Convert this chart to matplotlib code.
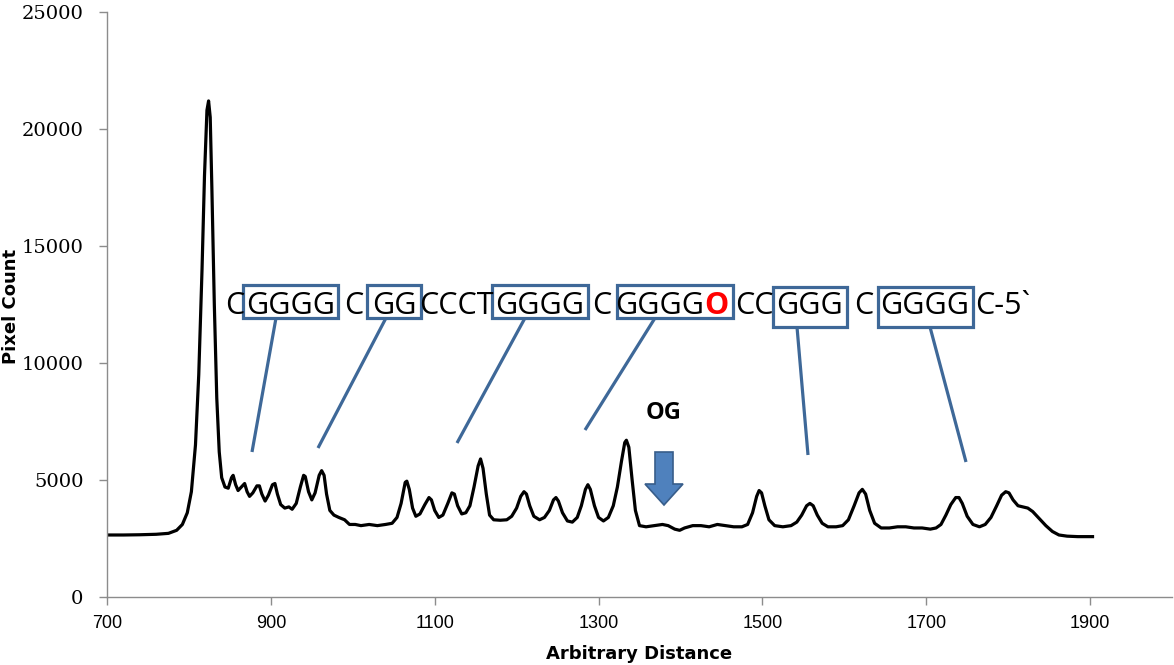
import matplotlib
matplotlib.use("Agg")
import matplotlib.pyplot as plt
from matplotlib.patches import Rectangle, FancyArrow

# densitometry trace
distance = [
    700, 720, 740, 760, 775, 785, 792, 798, 803, 808, 812, 816, 819, 822, 824,
    826, 828, 831, 834, 837, 840, 844, 848, 852, 854, 857, 860, 864, 868, 871,
    874, 878, 883, 886, 889, 893, 897, 902, 905, 908, 912, 917, 922, 926, 931,
    936, 940, 942, 946, 950, 954, 959, 962, 965, 968, 972, 977, 983, 990, 996,
    1003, 1010, 1020, 1030, 1040, 1048, 1054, 1059, 1064, 1066, 1069, 1073,
    1077, 1082, 1088, 1093, 1096, 1100, 1105, 1110, 1116, 1121, 1124, 1128,
    1133, 1138, 1143, 1148, 1153, 1156, 1159, 1163, 1167, 1172, 1180, 1188,
    1194, 1200, 1205, 1209, 1212, 1216, 1221, 1228, 1234, 1240, 1245, 1248,
    1251, 1256, 1262, 1268, 1274, 1279, 1284, 1287, 1290, 1295, 1300, 1306,
    1312, 1318, 1323, 1328, 1332, 1334, 1337, 1341, 1345, 1350, 1358, 1368,
    1378, 1385, 1393, 1399, 1405, 1415, 1425, 1435, 1445, 1455, 1465, 1475,
    1482, 1488, 1493, 1496, 1499, 1503, 1508, 1515, 1525, 1535, 1542, 1548,
    1554, 1558, 1562, 1567, 1573, 1580, 1590, 1598, 1605, 1612, 1618, 1622,
    1626, 1631, 1637, 1645, 1655, 1665, 1675, 1685, 1695, 1705, 1712, 1718,
    1724, 1730, 1736, 1740, 1744, 1750, 1757, 1765, 1772, 1779, 1786, 1792,
    1797, 1801, 1806, 1812, 1818, 1824, 1830, 1838, 1846, 1854, 1862, 1872,
    1885, 1895, 1903,
]
pixel_count = [
    2650, 2650, 2660, 2680, 2720, 2850, 3100, 3600, 4500, 6500, 9500, 14000,
    18000, 20800, 21200, 20500, 17500, 12500, 8500, 6200, 5100, 4700, 4650,
    5100, 5200, 4800, 4550, 4700, 4850, 4500, 4300, 4450, 4750, 4750, 4400,
    4100, 4350, 4800, 4850, 4400, 3950, 3800, 3850, 3750, 4000, 4700, 5200,
    5150, 4500, 4150, 4450, 5200, 5400, 5200, 4400, 3700, 3500, 3400, 3300,
    3100, 3100, 3050, 3100, 3050, 3100, 3150, 3400, 4000, 4900, 4950, 4600,
    3800, 3450, 3550, 3950, 4250, 4150, 3700, 3400, 3500, 4000, 4450, 4400,
    3900, 3550, 3600, 3900, 4700, 5600, 5900, 5500, 4400, 3500, 3300, 3280,
    3300, 3450, 3800, 4300, 4500, 4400, 3900, 3450, 3300, 3400, 3700, 4150,
    4250, 4100, 3600, 3250, 3200, 3400, 3900, 4600, 4800, 4600, 3900, 3400,
    3250, 3400, 3900, 4700, 5800, 6600, 6700, 6400, 5000, 3700, 3050, 3000,
    3050, 3100, 3050, 2900, 2850, 2950, 3050, 3050, 3000, 3100, 3050, 3000,
    3000, 3100, 3600, 4300, 4550, 4450, 3900, 3300, 3050, 3000, 3050, 3200,
    3500, 3900, 4000, 3900, 3500, 3150, 3000, 3000, 3050, 3300, 3900, 4450,
    4600, 4400, 3700, 3150, 2950, 2950, 3000, 3000, 2950, 2950, 2900, 2950,
    3100, 3500, 3950, 4250, 4250, 4000, 3450, 3100, 3000, 3100, 3400, 3900,
    4350, 4500, 4450, 4150, 3900, 3850, 3800, 3650, 3350, 3050, 2800, 2650,
    2600, 2580, 2580, 2580,
]

x_ticks = [700, 900, 1100, 1300, 1500, 1700, 1900]
y_ticks = [0, 5000, 10000, 15000, 20000, 25000]

# sequence annotation: (text, colour)
seq_parts = [
    ("C", "black"), ("GGGG", "black"), ("C", "black"), ("GG", "black"),
    ("CCCT", "black"), ("GGGG", "black"), ("C", "black"), ("GGGG", "black"),
    ("O", "red"), ("CC", "black"), ("GGG", "black"), ("C", "black"),
    ("GGGG", "black"), ("C-5`", "black"),
]

W, H = 1174, 665
X0, X1, Y0, Y1 = 107, 1172, 597, 12   # axes box in reference pixels
XMIN, XMAX, YMIN, YMAX = 700, 2000, 0, 25000


def px(x, y):
    # reference pixel -> data coords, only used for the annotation layout
    dx = XMIN + (x - X0) * (XMAX - XMIN) / (X1 - X0)
    dy = YMIN + (Y0 - y) * (YMAX - YMIN) / (Y0 - Y1)
    return dx, dy


fig = plt.figure(figsize=(W / 100, H / 100), dpi=100)
ax = fig.add_axes([X0 / W, 1 - Y0 / H, (X1 - X0) / W, (Y0 - Y1) / H])

ax.plot(distance, pixel_count, color="black", lw=2.3, solid_joinstyle="round")

ax.set_xlim(XMIN, XMAX)
ax.set_ylim(YMIN, YMAX)
ax.set_xticks(x_ticks)
ax.set_yticks(y_ticks)
for s in ("top", "right"):
    ax.spines[s].set_visible(False)
for s in ("left", "bottom"):
    ax.spines[s].set_color("#8c8c8c")
    ax.spines[s].set_linewidth(1.0)
ax.tick_params(direction="out", length=6, width=1.0, color="#8c8c8c")
ax.tick_params(axis="y", pad=11, labelsize=14,
               labelfontfamily="DejaVu Serif")
ax.tick_params(axis="x", pad=7, labelsize=13,
               labelfontfamily="Liberation Sans")

ax.set_xlabel("Arbitrary Distance", fontsize=13, fontweight="bold")
ax.set_ylabel("Pixel Count", fontsize=13, fontweight="bold")
ax.xaxis.set_label_coords(0.5, -0.082)
ax.yaxis.set_label_coords(-0.0817, 0.496)

# sequence letters
centers = [235, 291, 354, 394, 456, 540, 602, 660, 716, 754, 810, 864, 925, 1003]
for (txt, col), cx in zip(seq_parts, centers):
    x, y = px(cx, 314)
    ax.text(x, y, txt, color=col, fontsize=22, family="Open Sans",
            fontweight="bold" if col == "red" else "normal",
            ha="center", va="baseline")

box_color = "#3e6898"
boxes = [(243, 338, 285, 318), (367, 421, 285, 318), (492, 588, 285, 318),
         (617, 733, 285, 318), (773, 847, 287, 327), (878, 973, 287, 327)]
for l, r, t, b in boxes:
    x0, y0 = px(l, b)
    x1, y1 = px(r, t)
    ax.add_patch(Rectangle((x0, y0), x1 - x0, y1 - y0, fill=False,
                           ec=box_color, lw=2.3, clip_on=False))

leaders = [((276, 318), (252, 452)), ((386, 318), (318, 448)),
           ((525, 318), (457, 443)), ((655, 318), (585, 430)),
           ((797, 327), (808, 455)), ((930, 327), (966, 462))]
for a, b in leaders:
    (xa, ya), (xb, yb) = px(*a), px(*b)
    ax.plot([xa, xb], [ya, yb], color=box_color, lw=2.3, solid_capstyle="butt")

# OG arrow
ax_, ay_ = px(664, 452)
_, tip_y = px(664, 505)
_, head_y = px(664, 484)
shaft_w = 18 * (XMAX - XMIN) / (X1 - X0)
head_w = 38 * (XMAX - XMIN) / (X1 - X0)
ax.add_patch(FancyArrow(ax_, ay_, 0, tip_y - ay_, width=shaft_w,
                        head_width=head_w, head_length=head_y - tip_y,
                        length_includes_head=True, fc="#4f81bd", ec="#385d8a",
                        lw=1.2))
ox, oy = px(664, 413)
ax.text(ox, oy, "OG", fontsize=17, fontweight="bold", family="Open Sans",
        ha="center", va="center")

fig.savefig("out.png", dpi=100)
